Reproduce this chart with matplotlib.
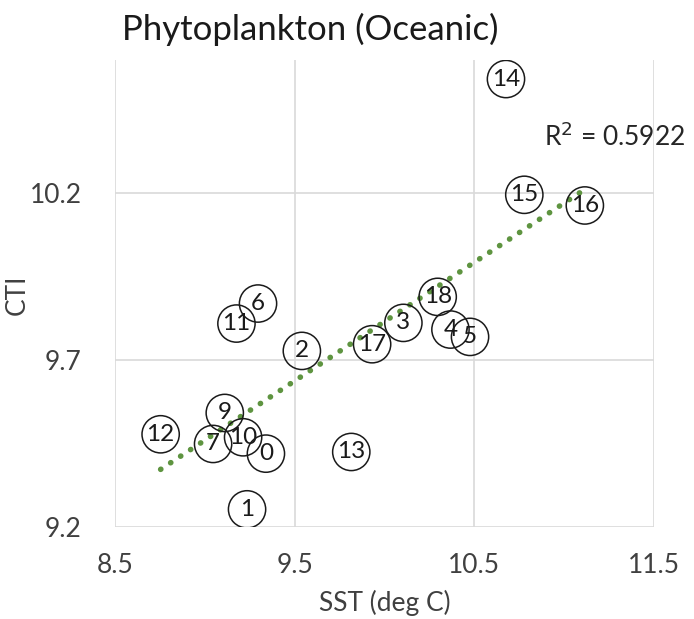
import numpy as np
import matplotlib
matplotlib.use('Agg')
import matplotlib.pyplot as plt

plt.rcParams['font.family'] = ['Lato', 'DejaVu Sans']

# station numbers with SST and CTI values
station = [0, 1, 2, 3, 4, 5, 6, 7, 9, 10, 11, 12, 13, 14, 15, 16, 17, 18]
sst = [9.34, 9.235, 9.54, 10.105, 10.367, 10.476, 9.296, 9.046, 9.111, 9.213,
       9.176, 8.754, 9.815, 10.676, 10.778, 11.115, 9.931, 10.296]
cti = [9.42, 9.253, 9.728, 9.812, 9.792, 9.770, 9.870, 9.449, 9.542, 9.469,
       9.810, 9.478, 9.425, 10.543, 10.196, 10.164, 9.748, 9.890]

x_ticks = [8.5, 9.5, 10.5, 11.5]
y_ticks = [9.2, 9.7, 10.2]
r2_label = "R$^2$ = 0.5922"

fig = plt.figure(figsize=(6.94, 6.19), dpi=100)
ax = fig.add_axes([0.1657, 0.1486, 0.7767, 0.7544])

# linear trendline over the data range
slope, intercept = np.polyfit(sst, cti, 1)
xs = np.array([min(sst), max(sst)])
ax.plot(xs, slope * xs + intercept, color='#5E9440', linewidth=4,
        linestyle=(0, (0.05, 2.1)), dash_capstyle='round', zorder=2)

# open circles with station numbers
ax.scatter(sst, cti, s=720, facecolors='none', edgecolors='#1a1a1a',
           linewidths=1.1, zorder=3)
for n, x, y in zip(station, sst, cti):
    ax.text(x, y, str(n), ha='center', va='center', fontsize=17.5,
            color='#1a1a1a', zorder=4)

ax.text(10.89, 10.37, r2_label, ha='left', va='center', fontsize=19,
        color='#262626')

ax.set_xlim(8.5, 11.5)
ax.set_ylim(9.2, 10.6)
ax.set_xticks(x_ticks)
ax.set_yticks(y_ticks)
ax.set_xticklabels([str(v) for v in x_ticks])
ax.set_yticklabels([str(v) for v in y_ticks])
ax.grid(True, color='#d9d9d9', linewidth=1.2)
ax.set_axisbelow(True)
for s in ax.spines.values():
    s.set_visible(False)
ax.tick_params(length=0, labelsize=19, labelcolor='#404040')
ax.tick_params(axis='y', pad=24)
ax.tick_params(axis='x', pad=19)

ax.set_xlabel('SST (deg C)', fontsize=19, color='#404040', labelpad=8)
ax.set_ylabel('CTI', fontsize=19, color='#404040')
ax.yaxis.set_label_coords(-0.158, 0.497)
fig.text(0.176, 0.952, 'Phytoplankton (Oceanic)', fontsize=25, color='#1a1a1a',
         ha='left', va='center')

fig.savefig('out.png', dpi=100)
